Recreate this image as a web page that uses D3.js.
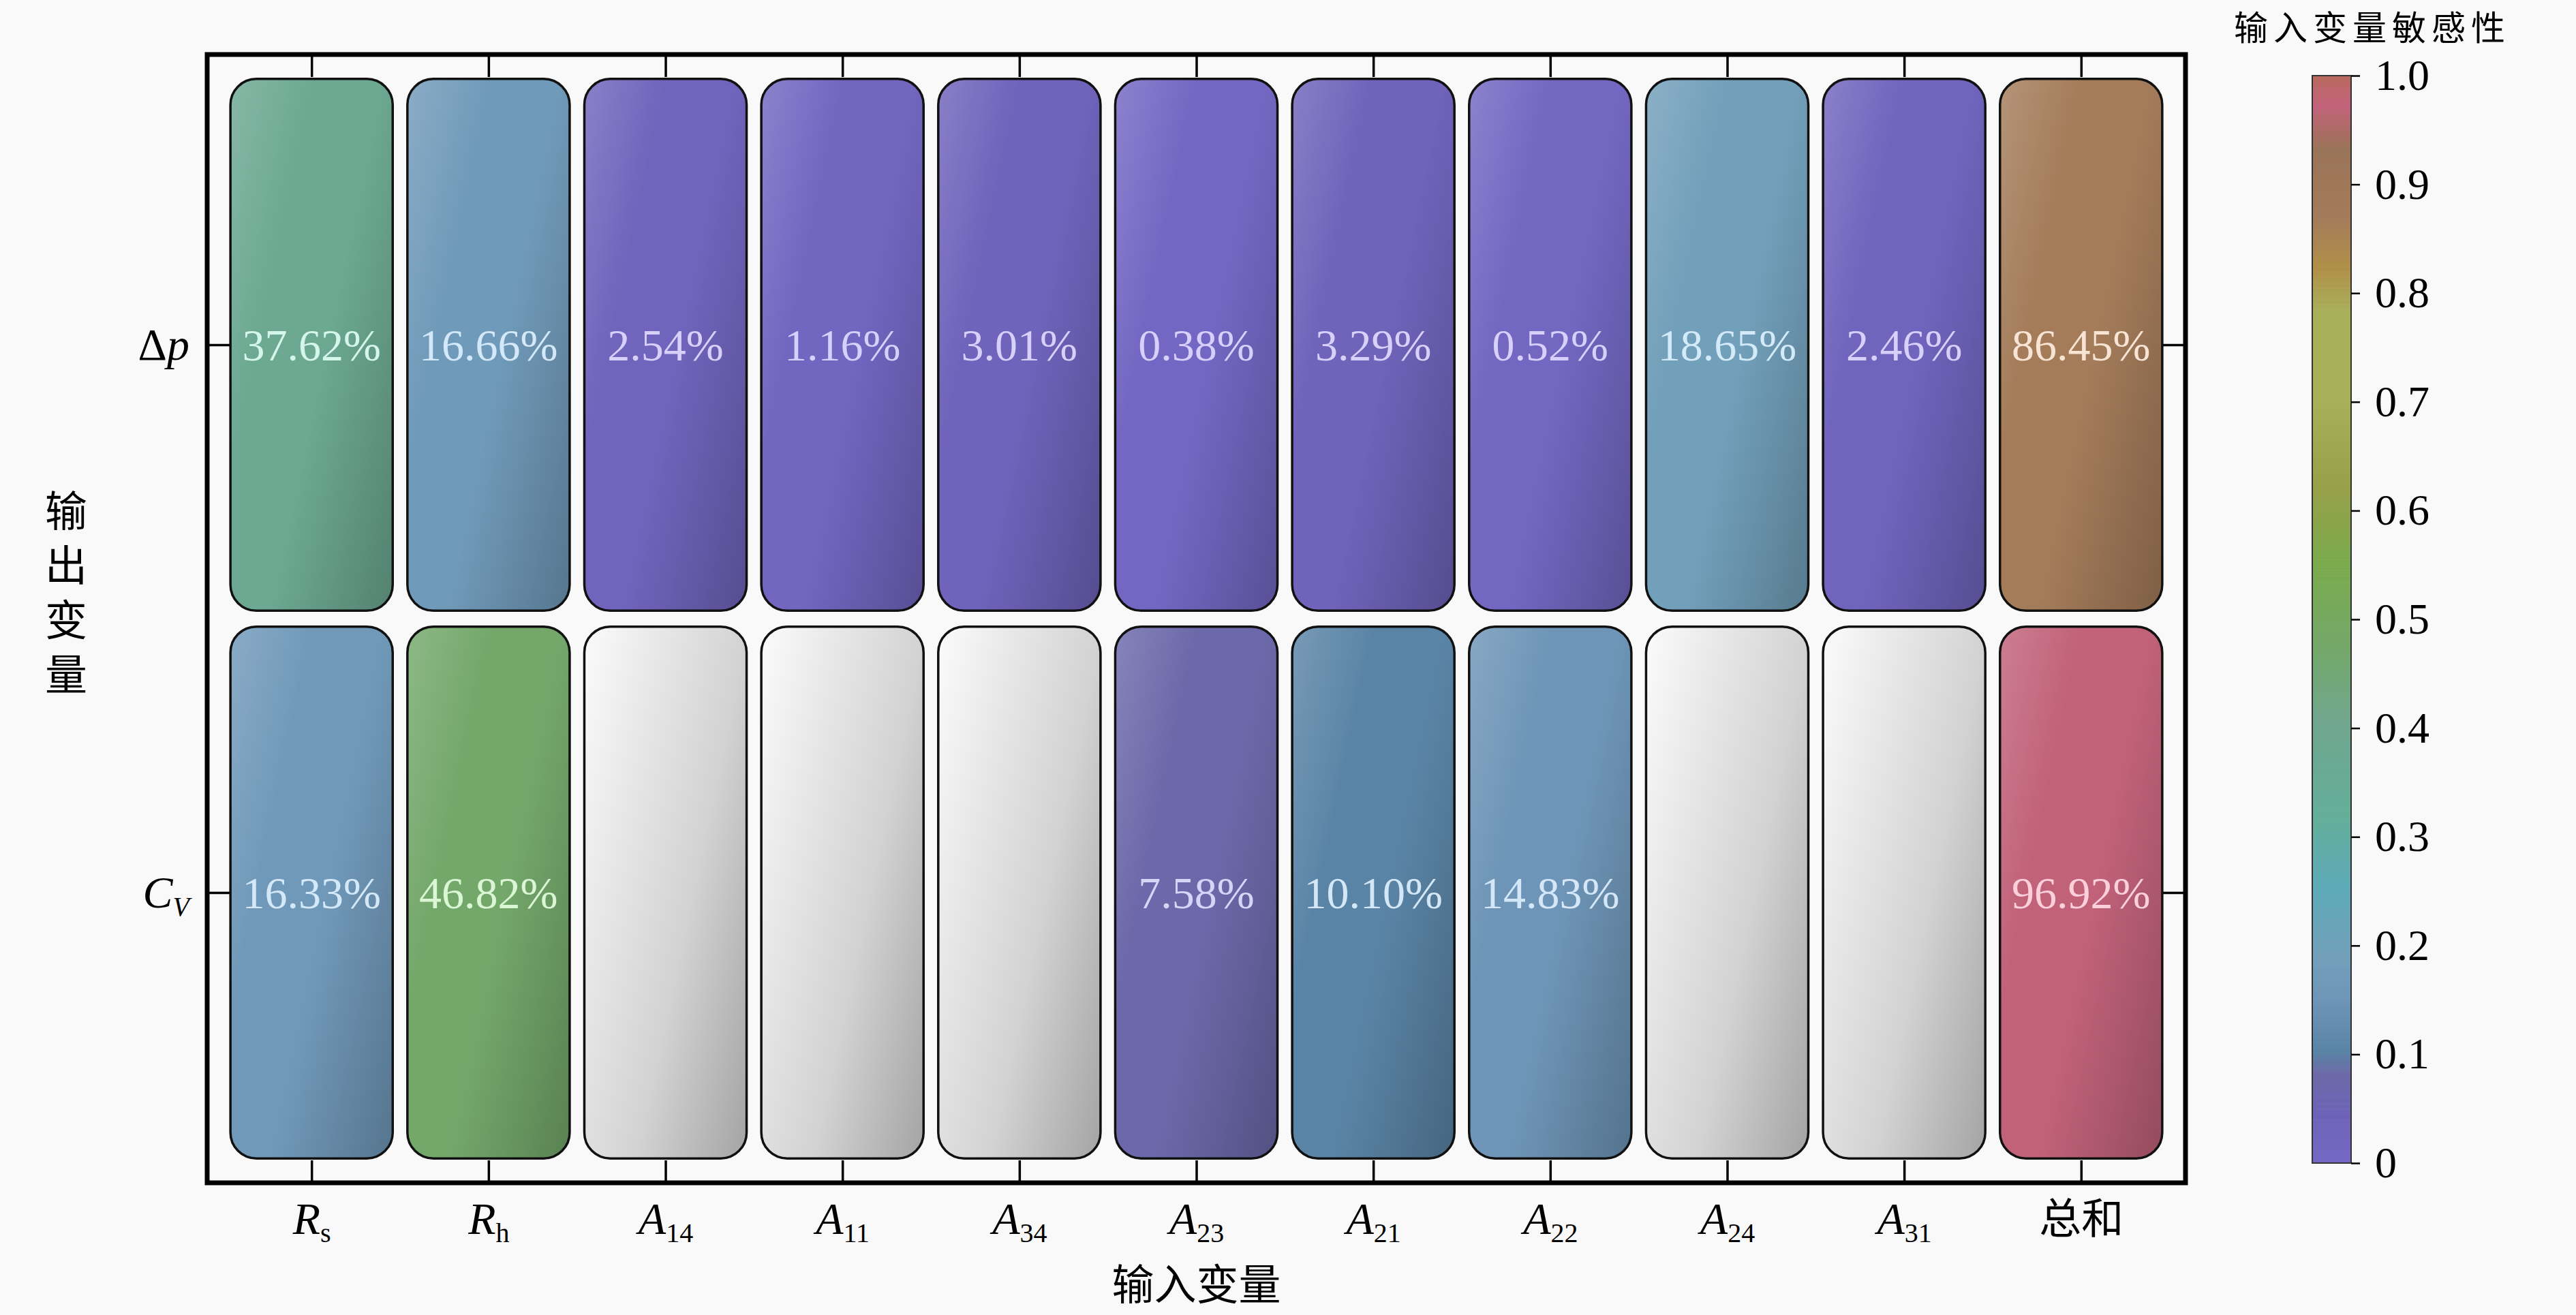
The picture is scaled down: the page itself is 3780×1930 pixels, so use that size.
<!DOCTYPE html>
<html>
<head>
<meta charset="utf-8">
<script src="https://cdn.jsdelivr.net/npm/d3@7"></script>
<style>
  body { margin: 0; background: #f9f9f9; }
  svg { display: block; }
</style>
</head>
<body>
<script>
// data
var inputMain = ["R", "R", "A", "A", "A", "A", "A", "A", "A", "A", "总和"];
var inputSub  = ["s", "h", "14", "11", "34", "23", "21", "22", "24", "31", ""];
var outputs   = ["Δp", "CV"];
var sensDp = [37.62, 16.66, 2.54, 1.16, 3.01, 0.38, 3.29, 0.52, 18.65, 2.46, 86.45];
var sensCv = [16.33, 46.82, 0, 0, 0, 7.58, 10.10, 14.83, 0, 0, 96.92];
var cbTicks = [0, 0.1, 0.2, 0.3, 0.4, 0.5, 0.6, 0.7, 0.8, 0.9, 1.0];
var cmapStops  = [0, 0.04, 0.08, 0.10, 0.15, 0.19, 0.25, 0.32, 0.40, 0.47, 0.55, 0.62, 0.70, 0.78, 0.82, 0.865, 0.93, 0.97, 1.0];
var cmapColors = ["#7468c4", "#6e62b8", "#6c6aa8", "#5a84a6", "#6f96b8", "#72a0ba", "#5eaab8", "#64ae98",
                  "#70a690", "#74a86a", "#7aaa4c", "#98a04a", "#a8b05a", "#a8b05a", "#b09048", "#a47c5a",
                  "#9a7458", "#c2627a", "#b86a5c"];
var xTitle = "输入变量";
var yTitle = "输出变量";
var cbTitle = "输入变量敏感性";

var serif = "'Liberation Serif', 'DejaVu Serif', serif";
var cjk = "'Noto Sans CJK SC', sans-serif";

function main() {
    var W = 3780, H = 1930;
    var svg = d3.select("body").append("svg")
        .attr("width", W)
        .attr("height", H);

    svg.append("rect").attr("width", W).attr("height", H).attr("fill", "#f9f9f9");

    var x = d3.scaleLinear().domain([-0.59, 10.59]).range([304, 3207]);
    var y = d3.scaleLinear().domain([-0.53, 1.53]).range([80, 1736]);
    var color = d3.scaleLinear().domain(cmapStops).range(cmapColors);

    var halfW = (x(0.4585) - x(0));
    var halfH = (y(0.4855) - y(0));

    var cells = [];
    [sensDp, sensCv].forEach(function (row, r) {
        row.forEach(function (v, c) { cells.push({ r: r, c: c, v: v }); });
    });

    var defs = svg.append("defs");
    var ang = 12 * Math.PI / 180;

    cells.forEach(function (d) {
        var bx = x(d.c) - halfW, by = y(d.r) - halfH;
        var len = 2 * halfW * Math.cos(ang) + 2 * halfH * Math.sin(ang);
        var g = defs.append("linearGradient")
            .attr("id", "g" + d.r + "_" + d.c)
            .attr("gradientUnits", "userSpaceOnUse")
            .attr("x1", bx).attr("y1", by)
            .attr("x2", bx + len * Math.cos(ang)).attr("y2", by + len * Math.sin(ang));
        var stops;
        if (d.v === 0) {
            stops = [[0, "#fbfbfb"], [0.3, "#e6e6e6"], [0.6, "#d2d2d2"], [1, "#a4a4a4"]];
        } else {
            var base = d3.color(color(d.v / 100));
            stops = [
                [0, d3.interpolateRgb(base, "#ffffff")(0.18)],
                [0.3, base + ""],
                [0.55, base + ""],
                [0.75, base.darker(0.3) + ""],
                [1, base.darker(0.75) + ""]
            ];
        }
        stops.forEach(function (s) {
            g.append("stop").attr("offset", s[0]).attr("stop-color", s[1]);
        });
    });

    // boxes
    svg.append("g").selectAll("rect")
        .data(cells)
        .enter().append("rect")
        .attr("x", function (d) { return x(d.c) - halfW; })
        .attr("y", function (d) { return y(d.r) - halfH; })
        .attr("width", 2 * halfW)
        .attr("height", 2 * halfH)
        .attr("rx", 38).attr("ry", 38)
        .attr("fill", function (d) { return "url(#g" + d.r + "_" + d.c + ")"; })
        .attr("stroke", "#111")
        .attr("stroke-width", 3.5);

    // percentage labels
    svg.append("g").selectAll("text")
        .data(cells.filter(function (d) { return d.v > 0; }))
        .enter().append("text")
        .attr("x", function (d) { return x(d.c); })
        .attr("y", function (d) { return y(d.r); })
        .attr("dy", "0.35em")
        .attr("text-anchor", "middle")
        .attr("font-family", serif)
        .attr("font-size", 66)
        .attr("fill", function (d) {
            var h = d3.hsl(color(d.v / 100));
            h.s = Math.min(1, h.s + 0.4);
            h.l = 0.9;
            return h + "";
        })
        .text(function (d) { return d.v.toFixed(2) + "%"; });

    // frame
    svg.append("rect")
        .attr("x", 304).attr("y", 80)
        .attr("width", 3207 - 304).attr("height", 1736 - 80)
        .attr("fill", "none")
        .attr("stroke", "#000")
        .attr("stroke-width", 7);

    // ticks (inward on all sides)
    var xt = d3.range(inputMain.length);
    var bottomAxis = svg.append("g")
        .attr("transform", "translate(0,1736)")
        .call(d3.axisBottom(x).tickValues(xt).tickSizeInner(-33).tickSizeOuter(0).tickPadding(28));
    svg.append("g")
        .attr("transform", "translate(0,80)")
        .call(d3.axisTop(x).tickValues(xt).tickSizeInner(-33).tickSizeOuter(0).tickFormat(""));
    var leftAxis = svg.append("g")
        .attr("transform", "translate(304,0)")
        .call(d3.axisLeft(y).tickValues([0, 1]).tickSizeInner(-33).tickSizeOuter(0).tickPadding(26));
    svg.append("g")
        .attr("transform", "translate(3207,0)")
        .call(d3.axisRight(y).tickValues([0, 1]).tickSizeInner(-33).tickSizeOuter(0).tickFormat(""));

    svg.selectAll(".domain").remove();
    svg.selectAll(".tick line").attr("stroke", "#000").attr("stroke-width", 3.5);

    bottomAxis.selectAll(".tick text")
        .attr("fill", "#000")
        .attr("font-family", serif)
        .attr("font-size", 66)
        .each(function (d) {
            var t = d3.select(this).text("");
            if (inputSub[d] === "") {
                t.append("tspan").attr("font-family", cjk).attr("font-size", 62).text(inputMain[d]);
            } else {
                t.append("tspan").attr("font-style", "italic").text(inputMain[d]);
                t.append("tspan").attr("font-size", 40).attr("dy", 12).text(inputSub[d]);
            }
        });

    leftAxis.selectAll(".tick text")
        .attr("fill", "#000")
        .attr("font-family", serif)
        .attr("font-size", 66)
        .each(function (d) {
            var t = d3.select(this).text("");
            var name = outputs[d];
            if (name === "Δp") {
                t.append("tspan").text("Δ");
                t.append("tspan").attr("font-style", "italic").text("p");
            } else {
                t.append("tspan").attr("font-style", "italic").text("C");
                t.append("tspan").attr("font-style", "italic").attr("font-size", 40).attr("dy", 12).text("V");
            }
        });

    // axis titles
    svg.append("text")
        .attr("x", (304 + 3207) / 2)
        .attr("y", 1908)
        .attr("text-anchor", "middle")
        .attr("font-family", cjk)
        .attr("font-size", 62)
        .text(xTitle);

    svg.append("text")
        .attr("x", 97)
        .attr("y", 878)
        .attr("text-anchor", "middle")
        .attr("font-family", cjk)
        .attr("font-size", 62)
        .style("writing-mode", "vertical-rl")
        .style("letter-spacing", "18px")
        .text(yTitle);

    // colorbar
    var cb = d3.scaleLinear().domain([0, 1]).range([1707, 111]);
    var cbX = 3393, cbW = 57;
    var steps = d3.range(0, 1, 0.005);
    svg.append("g").selectAll("rect")
        .data(steps)
        .enter().append("rect")
        .attr("x", cbX)
        .attr("y", function (d) { return cb(d + 0.005); })
        .attr("width", cbW)
        .attr("height", function (d) { return cb(d) - cb(d + 0.005) + 0.6; })
        .attr("fill", function (d) { return color(d); });

    svg.append("rect")
        .attr("x", cbX).attr("y", cb(1))
        .attr("width", cbW).attr("height", cb(0) - cb(1))
        .attr("fill", "none")
        .attr("stroke", "#333")
        .attr("stroke-width", 2);

    var cbAxis = svg.append("g")
        .attr("transform", "translate(" + (cbX + cbW) + ",0)")
        .call(d3.axisRight(cb).tickValues(cbTicks).tickSize(13).tickPadding(22)
            .tickFormat(function (d) { return d === 0 ? "0" : d.toFixed(1); }));
    cbAxis.select(".domain").remove();
    cbAxis.selectAll(".tick line").attr("stroke", "#000").attr("stroke-width", 2.5);
    cbAxis.selectAll(".tick text")
        .attr("fill", "#000")
        .attr("font-family", serif)
        .attr("font-size", 64);

    svg.append("text")
        .attr("x", 3481)
        .attr("y", 59)
        .attr("text-anchor", "middle")
        .attr("font-family", cjk)
        .attr("font-size", 50)
        .attr("letter-spacing", 8)
        .text(cbTitle);
}
main();
</script>
</body>
</html>
